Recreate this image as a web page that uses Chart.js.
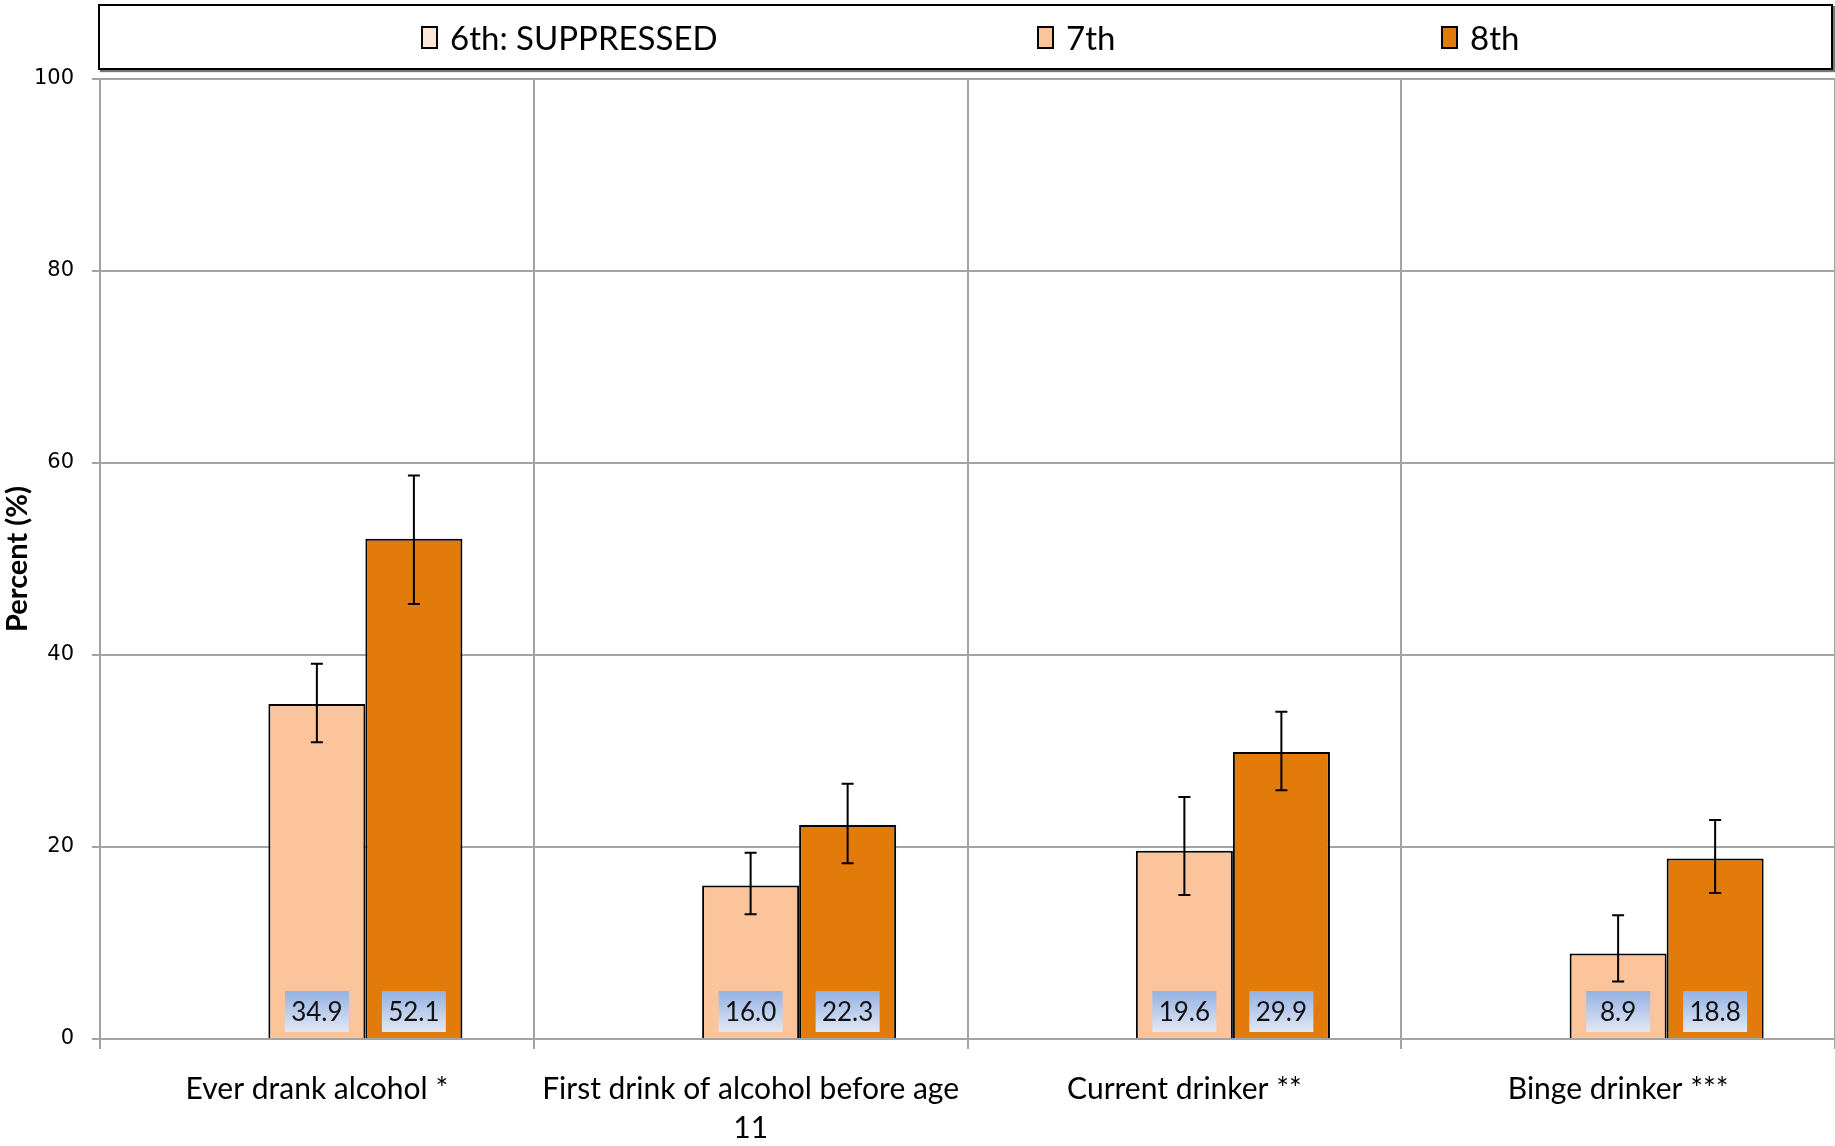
<!DOCTYPE html>
<html>
<head>
<meta charset="utf-8">
<script src="https://cdn.jsdelivr.net/npm/chart.js@4.4.1/dist/chart.umd.min.js"></script>
<style>
  html, body { margin: 0; padding: 0; background: #fff; }
  #wrap { position: relative; width: 1835px; height: 1146px; }
  #legend {
    position: absolute; left: 98px; top: 4px; width: 1731px; height: 62px;
    border: 2px solid #000; box-shadow: 2px 2px 1px #777; background: #fff;
    font-family: Lato, "Noto Sans", sans-serif; font-size: 33px; color: #000;
  }
  .item { position: absolute; top: 0; height: 62px; display: flex; align-items: center; white-space: nowrap; }
  .swatch { width: 13px; height: 19px; border: 2px solid #000; margin-right: 12px; }
  canvas { position: absolute; left: 0; top: 0; }
</style>
</head>
<body>
<div id="wrap">
  <canvas id="chart" width="1835" height="1146"></canvas>
  <div id="legend"></div>
</div>
<script>
const categories = [
  "Ever drank alcohol *",
  ["First drink of alcohol before age", "11"],
  "Current drinker **",
  "Binge drinker ***",
];
const seriesNames = ["6th: SUPPRESSED", "7th", "8th"];
const seriesColors = ["#fde5d8", "#fbc49b", "#e27b0a"];
const grade6 = [null, null, null, null];
const grade7 = [34.9, 16.0, 19.6, 8.9];
const grade8 = [52.1, 22.3, 29.9, 18.8];
const grade7Low = [30.9, 13.0, 15.0, 6.0];
const grade7High = [39.1, 19.4, 25.2, 12.9];
const grade8Low = [45.3, 18.3, 25.9, 15.2];
const grade8High = [58.7, 26.6, 34.1, 22.8];
const yTicks = [0, 20, 40, 60, 80, 100];

const gridColor = "#a3a3a3";
const legendLeft = [321, 937, 1341];

// html legend, spaced like the original
const legendEl = document.getElementById("legend");
legendEl.innerHTML = seriesNames
  .map(
    (name, i) => `
      <div class="item" style="left:${legendLeft[i]}px">
        <span class="swatch" style="background:${seriesColors[i]}"></span>${name}
      </div>
    `,
  )
  .join("");

const errors = {
  1: { low: grade7Low, high: grade7High },
  2: { low: grade8Low, high: grade8High },
};

const errorBarPlugin = {
  id: "errorBars",
  afterDatasetsDraw(chart) {
    const { ctx } = chart;
    const yScale = chart.scales.y;
    const base = yScale.getPixelForValue(0);
    ctx.save();
    chart.data.datasets.forEach((ds, i) => {
      const meta = chart.getDatasetMeta(i);
      meta.data.forEach((bar, j) => {
        const v = ds.data[j];
        if (v == null) return;
        // value box at the foot of the bar
        const w = 64, h = 41;
        const top = base - 7 - h;
        const grad = ctx.createLinearGradient(0, top, 0, top + h);
        grad.addColorStop(0, "#93b1e3");
        grad.addColorStop(1, "#e2e8f5");
        ctx.fillStyle = grad;
        ctx.fillRect(bar.x - w / 2, top, w, h);
        ctx.fillStyle = "#111";
        ctx.font = "26px Lato, 'Noto Sans', sans-serif";
        ctx.textAlign = "center";
        ctx.textBaseline = "middle";
        ctx.fillText(v.toFixed(1), bar.x, top + h / 2 + 1);

        const err = errors[i];
        if (!err) return;
        const yLo = yScale.getPixelForValue(err.low[j]);
        const yHi = yScale.getPixelForValue(err.high[j]);
        ctx.strokeStyle = "#000";
        ctx.lineWidth = 2;
        ctx.beginPath();
        ctx.moveTo(bar.x, yLo);
        ctx.lineTo(bar.x, yHi);
        ctx.moveTo(bar.x - 6, yLo);
        ctx.lineTo(bar.x + 6, yLo);
        ctx.moveTo(bar.x - 6, yHi);
        ctx.lineTo(bar.x + 6, yHi);
        ctx.stroke();
      });
    });
    ctx.restore();
  },
};

new Chart(document.getElementById("chart"), {
  type: "bar",
  data: {
    labels: categories,
    datasets: [grade6, grade7, grade8].map((data, i) => ({
      label: seriesNames[i],
      data,
      backgroundColor: seriesColors[i],
      borderColor: "#000",
      borderWidth: 2,
      categoryPercentage: 0.671,
      barPercentage: 1,
    })),
  },
  options: {
    responsive: false,
    animation: false,
    devicePixelRatio: 1,
    layout: { padding: { top: 79, right: 0, left: 0, bottom: 0 } },
    plugins: { legend: { display: false }, tooltip: { enabled: false } },
    scales: {
      x: {
        grid: { offset: true, color: gridColor, lineWidth: 2, tickLength: 10 },
        border: { color: gridColor, width: 2 },
        ticks: {
          color: "#000",
          padding: 21,
          maxRotation: 0,
          autoSkip: false,
          font: { family: "Lato, 'Noto Sans', sans-serif", size: 30, lineHeight: 1.3 },
        },
        afterFit: (scale) => { scale.height = 107; },
      },
      y: {
        min: yTicks[0],
        max: yTicks[yTicks.length - 1],
        grid: { color: gridColor, lineWidth: 2, tickLength: 8 },
        border: { color: gridColor, width: 2 },
        ticks: {
          stepSize: yTicks[1] - yTicks[0],
          color: "#000",
          padding: 18,
          font: { family: "'DejaVu Sans', 'Noto Sans', sans-serif", size: 21 },
          callback: (value) => (yTicks.includes(value) ? String(value) : ""),
        },
        title: {
          display: true,
          text: "Percent (%)",
          color: "#000",
          padding: { top: 0, bottom: 0 },
          font: { family: "Lato, 'Noto Sans', sans-serif", size: 29, weight: "bold" },
        },
        afterFit: (scale) => { scale.width = 100; },
      },
    },
  },
  plugins: [errorBarPlugin],
});
</script>
</body>
</html>
